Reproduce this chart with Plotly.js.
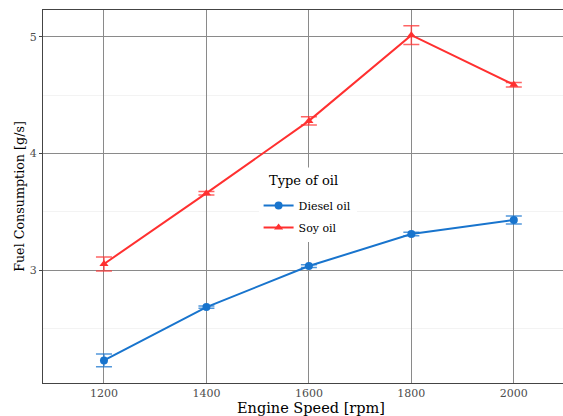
<!DOCTYPE html>
<html><head><meta charset="utf-8">
<script src="https://cdn.plot.ly/plotly-3.0.1.min.js"></script>
<style>html,body{margin:0;padding:0;background:#fff}</style>
</head><body><div id="chart" style="width:563px;height:416px"></div>
<script>
const speeds = [1200, 1400, 1600, 1800, 2000];
const dieselMean = [2.226, 2.683, 3.035, 3.31, 3.43];
const dieselErr = [0.054, 0.01, 0.012, 0.015, 0.035];
const soyMean = [3.053, 3.66, 4.28, 5.015, 4.59];
const soyErr = [0.06, 0.015, 0.035, 0.08, 0.02];
const seriesNames = ["Diesel oil", "Soy oil"];
const legendTitle = "Type of oil";
const xTitle = "Engine Speed [rpm]";

const font = "DejaVu Serif";
const traces = [
  {x: speeds, y: dieselMean, name: seriesNames[0], legendgroup: "d", type: "scatter", mode: "lines+markers",
   line: {color: "#1874CD", width: 2}, marker: {symbol: "circle", size: 8, color: "#1874CD"},
   error_y: {type: "data", array: dieselErr, visible: true, color: "rgba(24,116,205,0.75)", thickness: 1.5, width: 8}},
  {x: speeds, y: soyMean, name: seriesNames[1], legendgroup: "s", type: "scatter", mode: "lines+markers",
   line: {color: "#FF3030", width: 2}, marker: {symbol: "triangle-up", size: 8, color: "#FF3030"},
   error_y: {type: "data", array: soyErr, visible: true, color: "rgba(255,48,48,0.75)", thickness: 1.5, width: 8}}
];
const layout = {
  width: 563, height: 416,
  margin: {l: 43, r: 0, t: 10, b: 33},
  paper_bgcolor: "#fff", plot_bgcolor: "#fff",
  font: {family: font, color: "#4d4d4d"},
  showlegend: true,
  legend: {x: 0.4146, y: 0.515, xanchor: "left", yanchor: "top", bgcolor: "#fff",
    font: {size: 11, color: "#000", family: font}, tracegroupgap: 3},
  annotations: [
    {text: legendTitle, xref: "paper", yref: "paper", x: (263 - 43) / 520, y: 0.5416,
     xanchor: "left", yanchor: "middle", showarrow: false, bgcolor: "#fff", borderpad: 5,
     font: {size: 13, color: "#000", family: font}},
    {text: xTitle, xref: "paper", yref: "paper", x: (311 - 43) / 520, y: (383 - 407.5) / 373,
     xanchor: "center", yanchor: "middle", showarrow: false, borderpad: 0,
     font: {size: 14.5, color: "#000", family: font}}
  ],
  xaxis: {range: [1081, 2096], tickvals: speeds, ticktext: speeds.map(String),
    showgrid: true, gridcolor: "#8a8a8a", gridwidth: 1,
    showline: true, linecolor: "#444", linewidth: 1, mirror: true,
    ticks: "", zeroline: false, tickfont: {size: 11, color: "#4d4d4d", family: font}},
  yaxis: {range: [2.032, 5.231], tickvals: [3, 4, 5],
    showgrid: true, gridcolor: "#8a8a8a", gridwidth: 1,
    minor: {tickvals: [2.5, 3.5, 4.5], showgrid: true, gridcolor: "#ebebeb", gridwidth: 0.6},
    showline: true, linecolor: "#444", linewidth: 1,
    ticks: "outside", ticklen: 3, tickcolor: "#444", zeroline: false,
    tickfont: {size: 11, color: "#4d4d4d", family: font},
    title: {text: "Fuel Consumption [g/s]", font: {size: 12.7, color: "#000", family: font}, standoff: 2}}
};
Plotly.newPlot("chart", traces, layout, {displayModeBar: false, staticPlot: true});
</script></body></html>
